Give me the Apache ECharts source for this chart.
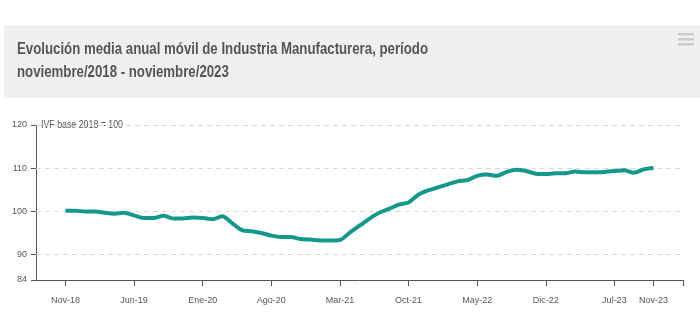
<!DOCTYPE html>
<html>
<head>
<meta charset="utf-8">
<script src="https://cdn.jsdelivr.net/npm/echarts@6/dist/echarts.min.js"></script>
<style>
html,body{margin:0;padding:0;background:#fff;}
#chart{width:700px;height:333px;}
</style>
</head>
<body>
<div id="chart"></div>
<script>
// Months on the axis (Aug-18 .. Feb-24); data covers Nov-18 .. Nov-23
const categories = [
  'Ago-18','Sep-18','Oct-18',
  'Nov-18','Dic-18','Ene-19','Feb-19','Mar-19','Abr-19','May-19','Jun-19','Jul-19','Ago-19','Sep-19','Oct-19',
  'Nov-19','Dic-19','Ene-20','Feb-20','Mar-20','Abr-20','May-20','Jun-20','Jul-20','Ago-20','Sep-20','Oct-20',
  'Nov-20','Dic-20','Ene-21','Feb-21','Mar-21','Abr-21','May-21','Jun-21','Jul-21','Ago-21','Sep-21','Oct-21',
  'Nov-21','Dic-21','Ene-22','Feb-22','Mar-22','Abr-22','May-22','Jun-22','Jul-22','Ago-22','Sep-22','Oct-22',
  'Nov-22','Dic-22','Ene-23','Feb-23','Mar-23','Abr-23','May-23','Jun-23','Jul-23','Ago-23','Sep-23','Oct-23',
  'Nov-23','Dic-23','Ene-24','Feb-24'
];
const ivfValues = [
  null, null, null,
  100.1, 100.1, 99.9, 99.9, 99.6, 99.4, 99.6, 99.0, 98.4, 98.4, 98.9, 98.3,
  98.3, 98.5, 98.4, 98.1, 98.8, 97.2, 95.6, 95.3, 94.9, 94.3, 94.0, 94.0,
  93.5, 93.4, 93.2, 93.2, 93.3, 95.0, 96.6, 98.2, 99.6, 100.5, 101.5, 102.0,
  103.8, 104.8, 105.5, 106.2, 106.9, 107.2, 108.2, 108.5, 108.2, 109.1, 109.6, 109.3,
  108.7, 108.6, 108.8, 108.8, 109.2, 109.0, 109.0, 109.1, 109.3, 109.5, 108.9, 109.7,
  110.0, null, null, null
];
const xLabelMonths = ['Nov-18','Jun-19','Ene-20','Ago-20','Mar-21','Oct-21','May-22','Dic-22','Jul-23','Nov-23'];
const xTickMonths = xLabelMonths.concat(['Feb-24']);
const yTickValues = [84, 90, 100, 110, 120];
const yGridValues = [90, 100, 110, 120];
const titleLines = ['Evolución media anual móvil de Industria Manufacturera, período', 'noviembre/2018 - noviembre/2023'];
const subtitleText = 'IVF base 2018 = 100';

const FONT = '"Liberation Sans",Arial,Helvetica,sans-serif';

// horizontal squeeze so the title text occupies the same width as in the reference
const ctx = document.createElement('canvas').getContext('2d');
ctx.font = 'bold 16px "Liberation Sans"';
const titleScale = 411 / ctx.measureText(titleLines[0]).width;
ctx.font = '10px "Liberation Sans"';
const subScale = 82 / ctx.measureText(subtitleText).width;

const chart = echarts.init(document.getElementById('chart'), null, {renderer: 'canvas'});
chart.setOption({
  animation: false,
  backgroundColor: '#ffffff',
  graphic: [
    {type: 'rect', z: -10, shape: {x: 4, y: 26, width: 696, height: 72}, style: {fill: '#f0f0f0'}},
    {type: 'rect', z: -9, shape: {x: 4, y: 26, width: 696, height: 1}, style: {fill: '#e6e6e6'}},
    {type: 'text', x: 17, y: 50, scaleX: titleScale,
      style: {text: titleLines[0], font: 'bold 16px ' + FONT, fill: '#555555', verticalAlign: 'middle'}},
    {type: 'text', x: 17, y: 73, scaleX: titleScale,
      style: {text: titleLines[1], font: 'bold 16px ' + FONT, fill: '#555555', verticalAlign: 'middle'}},
    {type: 'rect', shape: {x: 678, y: 33, width: 16, height: 2.5}, style: {fill: '#cccccc'}},
    {type: 'rect', shape: {x: 678, y: 38, width: 16, height: 2.5}, style: {fill: '#cccccc'}},
    {type: 'rect', shape: {x: 678, y: 43, width: 16, height: 2.5}, style: {fill: '#cccccc'}},
    {type: 'text', x: 41, y: 125, scaleX: subScale,
      style: {text: subtitleText, font: '10px ' + FONT, fill: '#555555', verticalAlign: 'middle'}}
  ],
  grid: {left: 36, right: 17, top: 125, bottom: 53, containLabel: false},
  xAxis: {
    type: 'category',
    data: categories,
    boundaryGap: false,
    axisLine: {show: true, lineStyle: {color: '#555555', width: 1}},
    axisTick: {show: true, length: 6, lineStyle: {color: '#555555'},
      interval: function (idx, val) { return xTickMonths.indexOf(val) >= 0; }},
    axisLabel: {show: true, margin: 16, fontFamily: FONT, fontSize: 9, color: '#555555',
      interval: function (idx, val) { return xLabelMonths.indexOf(val) >= 0; }},
    splitLine: {show: false}
  },
  yAxis: {
    type: 'value',
    min: 84, max: 120,
    axisLine: {show: true, lineStyle: {color: '#555555', width: 1}},
    axisTick: {show: true, length: 5, customValues: yTickValues, lineStyle: {color: '#555555'}},
    axisLabel: {show: true, margin: 9, customValues: yTickValues, fontFamily: FONT, fontSize: 9, color: '#555555'},
    splitLine: {show: false}
  },
  series: [
    {
      type: 'line',
      data: [],
      z: 1,
      markLine: {
        silent: true,
        symbol: 'none',
        label: {show: false},
        lineStyle: {color: '#d9d9d9', type: [5, 4], width: 1},
        data: yGridValues.map(v => ({yAxis: v}))
      }
    },
    {
      type: 'line',
      data: ivfValues,
      smooth: 0.3,
      symbol: 'none',
      connectNulls: false,
      lineStyle: {color: '#12998b', width: 4},
      z: 5
    }
  ]
});
</script>
</body>
</html>
